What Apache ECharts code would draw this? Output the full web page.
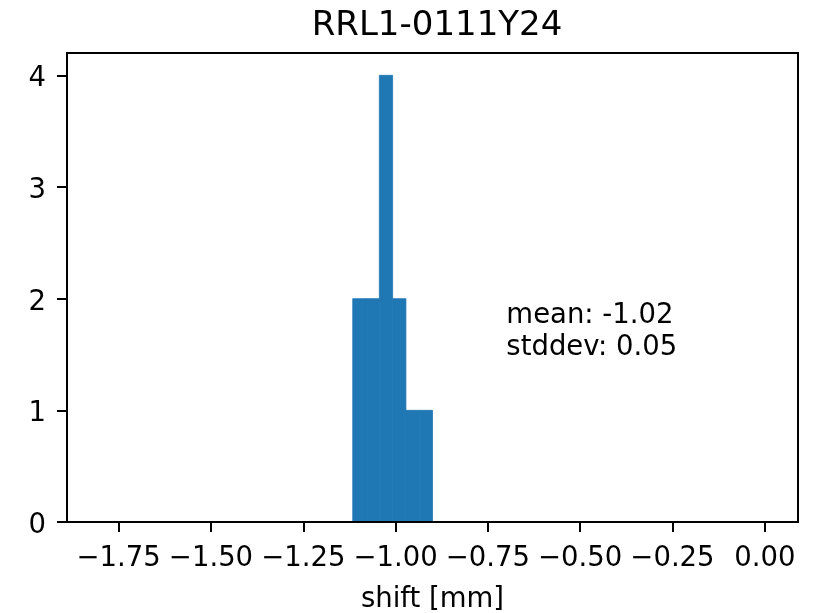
<!DOCTYPE html>
<html lang="en">
<head>
    <meta charset="UTF-8">
    <title>RRL1-0111Y24</title>
    <script src="https://cdn.jsdelivr.net/npm/echarts@6/dist/echarts.min.js"></script>
    <style>
        html, body { margin: 0; padding: 0; background: #fff; }
        #main { width: 830px; height: 613px; }
    </style>
</head>
<body>
<div id="main"></div>
<script>
    // histogram bins (edges) and counts
    var binEdges = [-1.116, -1.080, -1.044, -1.008, -0.972, -0.936, -0.900];
    var counts = [2, 2, 4, 2, 1, 1];
    var xTicks = [-1.75, -1.50, -1.25, -1.00, -0.75, -0.50, -0.25, 0.00];
    var yTicks = [0, 1, 2, 3, 4];
    var statText = ['mean: -1.02', 'stddev: 0.05'];
    var statPos = [-0.7, 1.5];

    var barData = [];
    for (var i = 0; i < counts.length; i++) {
        barData.push([binEdges[i], binEdges[i + 1], counts[i]]);
    }

    var font = 'DejaVu Sans';
    var fs = 27.5;

    function fmtX(v) {
        return (v < 0 ? '\u2212' : '') + Math.abs(v).toFixed(2);
    }

    var option = {
        animation: false,
        backgroundColor: '#fff',
        title: {
            text: 'RRL1-0111Y24',
            left: 432,
            textAlign: 'center',
            top: 4,
            textStyle: { fontFamily: font, fontSize: 34, fontWeight: 'normal', color: '#000' }
        },
        grid: {
            left: 67, right: 32, top: 53, bottom: 91,
            outerBoundsMode: 'none',
            show: true, borderColor: '#000', borderWidth: 2
        },
        xAxis: {
            type: 'value',
            min: -1.89, max: 0.09,
            z: 5,
            name: 'shift [mm]',
            nameLocation: 'middle',
            nameGap: 64,
            nameTextStyle: { fontFamily: font, fontSize: fs, color: '#000' },
            axisLine: { show: true, onZero: false, lineStyle: { color: '#000', width: 2 } },
            axisTick: { show: true, length: 10, lineStyle: { color: '#000', width: 2 }, customValues: xTicks },
            axisLabel: {
                customValues: xTicks,
                margin: 23,
                fontFamily: font, fontSize: fs, color: '#000',
                formatter: fmtX
            },
            splitLine: { show: false }
        },
        yAxis: {
            type: 'value',
            min: 0, max: 4.2,
            z: 5,
            axisLine: { show: true, onZero: false, lineStyle: { color: '#000', width: 2 } },
            axisTick: { show: true, length: 10, lineStyle: { color: '#000', width: 2 }, customValues: yTicks },
            axisLabel: {
                customValues: yTicks,
                margin: 21,
                formatter: function (v) { return '{t|' + v + '}'; },
                rich: {
                    t: { fontFamily: font, fontSize: fs, color: '#000', padding: [8, 0, 0, 0] }
                }
            },
            splitLine: { show: false }
        },
        series: [
            {
                type: 'custom',
                z: 1,
                renderItem: function (params, api) {
                    var p0 = api.coord([api.value(0), 0]);
                    var p1 = api.coord([api.value(1), api.value(2)]);
                    return {
                        type: 'rect',
                        shape: { x: p0[0], y: p1[1], width: p1[0] - p0[0], height: p0[1] - p1[1] },
                        style: { fill: '#1f77b4', stroke: '#1f77b4', lineWidth: 0.8 }
                    };
                },
                encode: { x: [0, 1], y: 2 },
                data: barData
            },
            {
                type: 'custom',
                z: 3,
                renderItem: function (params, api) {
                    var p = api.coord([api.value(0), api.value(1)]);
                    return {
                        type: 'text',
                        x: p[0],
                        y: p[1] + 9,
                        style: {
                            text: statText.join('\n'),
                            font: fs + 'px "DejaVu Sans"',
                            lineHeight: 32,
                            fill: '#000',
                            align: 'left',
                            verticalAlign: 'bottom'
                        }
                    };
                },
                encode: { x: 0, y: 1 },
                data: [statPos]
            }
        ]
    };

    echarts.init(document.getElementById('main')).setOption(option);
</script>
</body>
</html>
